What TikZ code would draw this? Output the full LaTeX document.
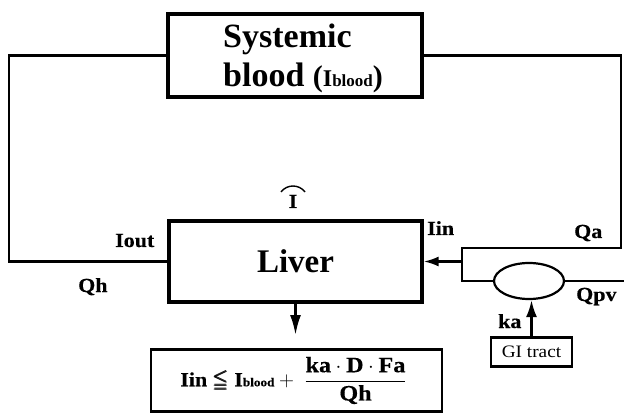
\documentclass[tikz,border=0pt]{standalone}
\usepackage{amsmath,amssymb}
\usepackage{fontspec}
\setmainfont{Liberation Serif}
\newfontfamily\lblfont{Liberation Serif}[FakeStretch=1.1,BoldFeatures={FakeBold=0.4}]
\newcommand{\fracsz}{\fontsize{22}{26}\selectfont}
\usetikzlibrary{arrows.meta,shapes.geometric}
\begin{document}
\begin{tikzpicture}[x=1pt,y=-1pt,line join=miter,
  conn/.style={line width=2.2pt},
  arr/.style={line width=2.4pt,-{Latex[length=17pt,width=11pt]}},
  thickbox/.style={draw,line width=3.2pt,inner sep=0pt},
  thinbox/.style={draw,line width=2.3pt,inner sep=0pt},
  lbl/.style={font=\lblfont\bfseries\fontsize{20}{24}\selectfont,inner sep=0pt,anchor=base west}]
\useasboundingbox (0,0) rectangle (624,414);
% boxes
\node[thickbox,minimum width=254pt,minimum height=83pt] (sys) at (295,55.5) {};
\node[inner sep=0pt,anchor=base west,font=\bfseries\fontsize{34}{39}\selectfont] (t1) at (223,48) {Systemic};
\node[inner sep=0pt,anchor=base west,font=\bfseries\fontsize{34}{39}\selectfont] (t2) at (223,87)
  {blood {\fontsize{30}{30}\selectfont(}{\fontsize{24}{24}\selectfont I}{\fontsize{17}{17}\selectfont blood}{\fontsize{30}{30}\selectfont)}};
\node[thickbox,minimum width=253pt,minimum height=81pt,font=\bfseries\fontsize{33}{40}\selectfont] (liver) at (295.5,261.5) {Liver};
\node[thinbox,minimum width=291pt,minimum height=62pt,font=\lblfont\bfseries\fontsize{20}{24}\selectfont] (eq) at (296.5,380.5)
  {$\text{Iin}\pmb{\leqq}\text{I{\fontsize{12}{12}\selectfont blood}}+\;\dfrac{\text{\fracsz ka}\cdot\text{\fracsz D}\cdot\text{\fracsz Fa}}{\text{\fracsz Qh}}\hspace{6pt}$};
\node[draw,ellipse,line width=2.2pt,minimum width=70pt,minimum height=36pt,inner sep=0pt] (ell) at (529,281) {};
\node[thinbox,minimum width=81pt,minimum height=29pt,font=\lblfont\fontsize{17.5}{20}\selectfont] (gi) at (531.5,352) {GI tract};
% helper coordinates
\coordinate (L) at (9,0);
\coordinate (R) at (621,0);
\coordinate (E) at (624,0);
\coordinate (qa) at (462,248);
\coordinate (dtip) at (293,335);
% connectors
\draw[conn] (sys.west) -- (L |- sys.west) -- (L |- liver.west) -- (liver.west);
\draw[conn] (sys.east) -- (R |- sys.east) -- (R |- qa) -- (qa) -- (qa |- ell.west) -- (ell.west);
\draw[conn] (ell.east) -- (E |- ell.east);
\draw[arr,-{Latex[length=15pt,width=10pt]}] (qa |- liver.east) -- (liver.east);
\draw[arr,-{Latex[length=20pt,width=11pt]}] (liver.south) -- (liver.south |- dtip);
\draw[arr] (gi.north) -- (gi.north |- ell.south);
% labels
\node[lbl] (iout) at (115,247) {Iout};
\node[lbl] (qh) at (78,292) {Qh};
\node[lbl] (iin) at (427,235) {Iin};
\node[lbl] (qalbl) at (574,238) {Qa};
\node[lbl] (qpv) at (576,301) {Qpv};
\node[lbl] (ka) at (498,328) {ka};
\node[lbl,anchor=base] (ihat) at (293,208) {I};
\draw[line width=1.4pt] (281,192) .. controls (287,184) and (299,184) .. (305,192);
\end{tikzpicture}
\end{document}
